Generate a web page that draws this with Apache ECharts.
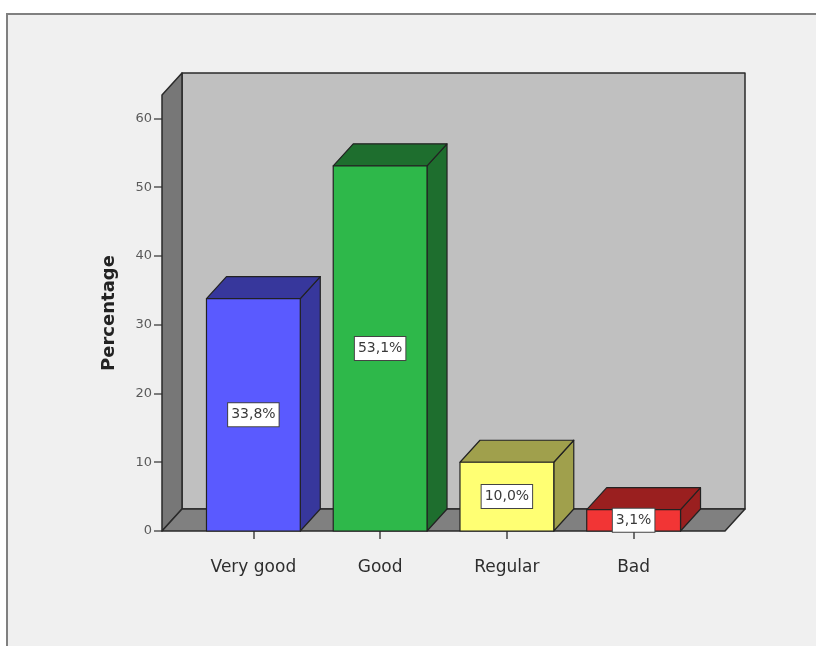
<!DOCTYPE html>
<html>
<head>
<meta charset="utf-8">
<script src="https://cdn.jsdelivr.net/npm/echarts@6/dist/echarts.min.js"></script>
<style>
html,body{margin:0;padding:0;background:#ffffff;}
#chart{width:816px;height:646px;}
</style>
</head>
<body>
<div id="chart"></div>
<script>
// ---- data ----
const categories = ['Very good', 'Good', 'Regular', 'Bad'];
const percentages = [33.8, 53.1, 10.0, 3.1];
const yTicks = [0, 10, 20, 30, 40, 50, 60];
const yMax = 63.4;

// ---- styles ----
const frontColors = ['#5a5aff', '#2eb84a', '#ffff73', '#f23535'];
const darkColors  = ['#37379c', '#1e6e2e', '#a0a04c', '#9a1f1f'];
const DX = 20, DY = 22;          // 3D depth offset
const WALL_PAD = 28;             // how far floor/walls extend beyond category range
const BAR_RATIO = 0.74;
const OUTLINE = '#222222';

function fmt(v) { return v.toFixed(1).replace('.', ',') + '%'; }

const chart = echarts.init(document.getElementById('chart'), null, {renderer: 'canvas'});

const option = {
  animation: false,
  backgroundColor: '#ffffff',
  graphic: [{
    type: 'rect', z: -10,
    shape: {x: 7, y: 14, width: 900, height: 700},
    style: {fill: '#f0f0f0', stroke: '#808080', lineWidth: 2}
  }],
  grid: {left: 190, right: 119, top: 95, bottom: 115},
  xAxis: {
    type: 'category',
    data: categories,
    boundaryGap: true,
    axisLine: {show: false},
    axisTick: {show: true, alignWithLabel: true, length: 8, lineStyle: {color: '#444', width: 1.5}},
    axisLabel: {margin: 28, color: '#2e2e2e', fontFamily: 'DejaVu Sans', fontSize: 17}
  },
  yAxis: {
    type: 'value',
    min: 0, max: yMax, interval: 10,
    offset: WALL_PAD,
    name: 'Percentage',
    nameLocation: 'middle',
    nameGap: 44,
    nameTextStyle: {fontFamily: 'DejaVu Sans', fontWeight: 'bold', fontSize: 18, color: '#222222'},
    axisLine: {show: false},
    splitLine: {show: false},
    axisTick: {show: true, length: 8, customValues: yTicks, lineStyle: {color: '#555', width: 1.5}},
    axisLabel: {margin: 10, customValues: yTicks, color: '#5a5a5a', fontFamily: 'DejaVu Sans', fontSize: 13}
  },
  series: [
    {
      // floor, back wall and side wall
      type: 'custom',
      z: 1,
      silent: true,
      data: [[0, 0]],
      renderItem: function (params, api) {
        const cs = params.coordSys;
        const L = cs.x - WALL_PAD;
        const R = cs.x + cs.width + WALL_PAD;
        const top = api.coord([0, yMax])[1];
        const bot = api.coord([0, 0])[1];
        const st = {stroke: '#2a2a2a', lineWidth: 1.5, lineJoin: 'round'};
        return {
          type: 'group',
          children: [
            {type: 'rect', shape: {x: L + DX, y: top - DY, width: R - L, height: bot - top},
             style: Object.assign({fill: '#c0c0c0'}, st)},
            {type: 'polygon', shape: {points: [[L, top], [L + DX, top - DY], [L + DX, bot - DY], [L, bot]]},
             style: Object.assign({fill: '#777777'}, st)},
            {type: 'polygon', shape: {points: [[L, bot], [R, bot], [R + DX, bot - DY], [L + DX, bot - DY]]},
             style: Object.assign({fill: '#808080'}, st)}
          ]
        };
      }
    },
    {
      type: 'custom',
      z: 2,
      data: percentages.map(function (v, i) { return [i, v]; }),
      renderItem: function (params, api) {
        const i = api.value(0);
        const v = api.value(1);
        const base = api.coord([i, 0]);
        const tp = api.coord([i, v]);
        const cx = base[0];
        const bot = base[1];
        const top = tp[1];
        const hw = api.size([1, 0])[0] * BAR_RATIO / 2;
        const st = {stroke: OUTLINE, lineWidth: 1.2, lineJoin: 'round'};
        const fc = frontColors[params.dataIndex];
        const dc = darkColors[params.dataIndex];
        return {
          type: 'group',
          children: [
            {type: 'polygon', shape: {points: [[cx + hw, top], [cx + hw + DX, top - DY], [cx + hw + DX, bot - DY], [cx + hw, bot]]},
             style: Object.assign({fill: dc}, st)},
            {type: 'polygon', shape: {points: [[cx - hw, top], [cx + hw, top], [cx + hw + DX, top - DY], [cx - hw + DX, top - DY]]},
             style: Object.assign({fill: dc}, st)},
            {type: 'rect', shape: {x: cx - hw, y: top, width: 2 * hw, height: bot - top},
             style: Object.assign({fill: fc}, st)},
            {type: 'text', x: cx, y: (top + bot) / 2, z2: 10,
             style: {
               text: fmt(v), align: 'center', verticalAlign: 'middle',
               fontFamily: 'DejaVu Sans', fontSize: 14, fill: '#3a3a3a',
               backgroundColor: '#ffffff', borderColor: '#444444', borderWidth: 1,
               padding: [5, 3, 4, 3]
             }}
          ]
        };
      }
    }
  ]
};

chart.setOption(option);
</script>
</body>
</html>
